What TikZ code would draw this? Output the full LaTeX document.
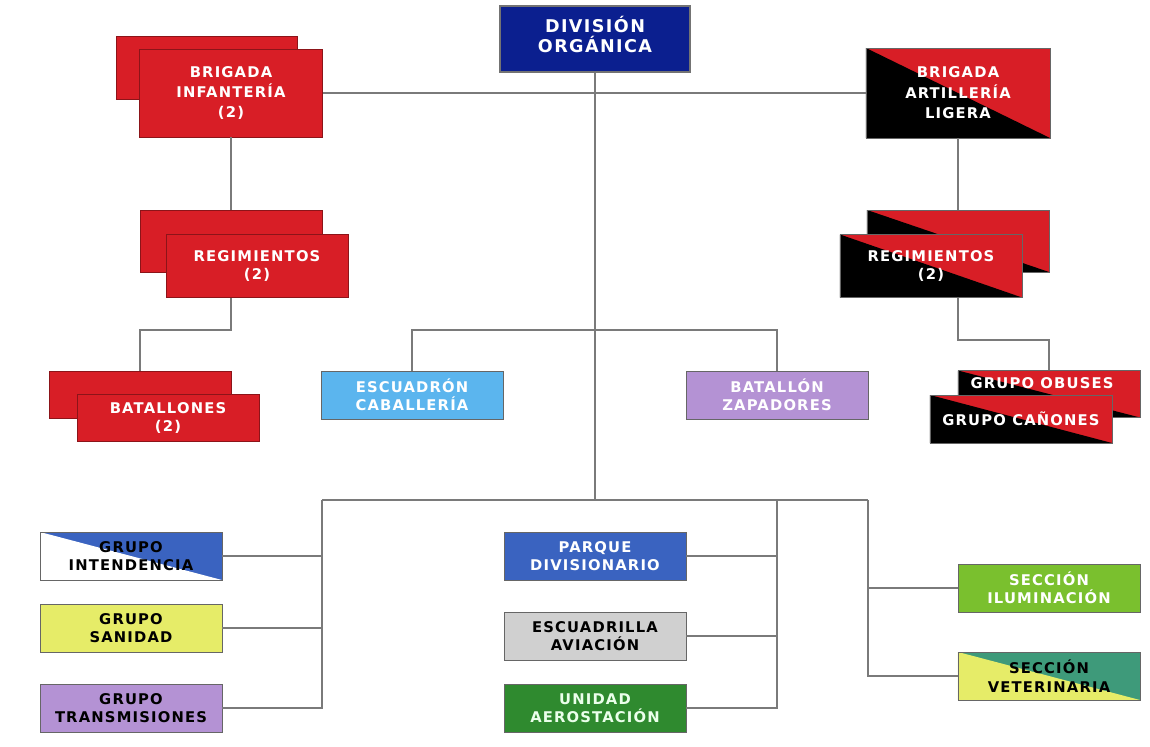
\documentclass[tikz,border=0pt]{standalone}
\usepackage{fontspec}
\setmainfont{DejaVu Sans}[LetterSpace=8]
\definecolor{divblue}{HTML}{0B1F8F}
\definecolor{infred}{HTML}{D81E26}
\definecolor{parqblue}{HTML}{3A63C0}
\definecolor{skyblue}{HTML}{5BB5EE}
\definecolor{lavender}{HTML}{B492D4}
\definecolor{lemon}{HTML}{E6EC68}
\definecolor{teal}{HTML}{3E9A7A}
\definecolor{lightgreen}{HTML}{7AC02E}
\definecolor{darkgreen}{HTML}{2F8A2F}
\definecolor{avgray}{HTML}{D0D0D0}
\definecolor{linegray}{HTML}{7A7A7A}

\begin{document}
\begin{tikzpicture}[x=0.025cm, y=-0.025cm,
  box/.style={draw=black!60, line width=0.6pt, minimum width=4.55cm, minimum height=1.2cm, inner sep=0pt, align=center, font=\bfseries\fontsize{10.5}{13}\selectfont},
  redbox/.style={box, fill=infred, draw=infred!65!black, text=white},
  split/.style 2 args={box, fill=#2, path picture={\fill[#1] (path picture bounding box.north west) -- (path picture bounding box.south east) -- (path picture bounding box.south west) -- cycle;}},
  tall/.style={font=\bfseries\fontsize{10.5}{14.5}\selectfont},
  link/.style={draw=linegray, line width=1pt}]
  \useasboundingbox (0,0) rectangle (1150,746);

  \node[box, fill=divblue, draw=black!55, line width=2pt, text=white, minimum width=4.75cm, minimum height=1.65cm, font=\bfseries\fontsize{12.5}{14}\selectfont] (div) at (595,39) {DIVISIÓN\\ORGÁNICA\\[-7pt]};

  \node[redbox, minimum width=4.525cm, minimum height=1.575cm] (brigInfB) at (207,68) {};
  \node[redbox, tall, minimum width=4.575cm, minimum height=2.2cm] (brigInf) at (231,93) {BRIGADA\\INFANTERÍA\\(2)};
  \node[split={black}{infred}, tall, text=white, minimum width=4.6cm, minimum height=2.25cm] (brigArt) at (958,93) {BRIGADA\\ARTILLERÍA\\LIGERA};

  \node[redbox, minimum height=1.55cm] (regIzB) at (231,241) {};
  \node[redbox, minimum height=1.575cm] (regIz) at (257,266) {REGIMIENTOS\\(2)};
  \node[split={black}{infred}, text=white, minimum height=1.55cm] (regDeB) at (958,241) {};
  \node[split={black}{infred}, text=white, minimum height=1.575cm] (regDe) at (931,266) {REGIMIENTOS\\(2)};

  \node[redbox, minimum height=1.175cm] (batB) at (140,395) {};
  \node[redbox, minimum height=1.175cm] (bat) at (168,418) {BATALLONES\\(2)};
  \node[box, fill=skyblue, text=white] (esc) at (412,395) {ESCUADRÓN\\CABALLERÍA};
  \node[box, fill=lavender, text=white] (zap) at (777,395) {BATALLÓN\\ZAPADORES};
  \node[split={black}{infred}, minimum height=1.175cm] (obus) at (1049,394) {};
  \node[box, draw=none, fill=none, minimum width=0pt, minimum height=0pt, text=white] (obusTxt) at (1042,383) {GRUPO OBUSES};
  \node[split={black}{infred}, text=white] (canon) at (1021,419) {GRUPO CAÑONES};

  \node[split={white}{parqblue}] (intend) at (131,556) {GRUPO\\INTENDENCIA};
  \node[box, fill=lemon] (sanid) at (131,628) {GRUPO\\SANIDAD};
  \node[box, fill=lavender] (trans) at (131,708) {GRUPO\\TRANSMISIONES};
  \node[box, fill=parqblue, text=white] (parque) at (595,556) {PARQUE\\DIVISIONARIO};
  \node[box, fill=avgray] (aviac) at (595,636) {ESCUADRILLA\\AVIACIÓN};
  \node[box, fill=darkgreen, text=green!8!white] (aerost) at (595,708) {UNIDAD\\AEROSTACIÓN};
  \node[box, fill=lightgreen, text=white] (ilum) at (1049,588) {SECCIÓN\\ILUMINACIÓN};
  \node[split={lemon}{teal}] (veter) at (1049,676) {SECCIÓN\\VETERINARIA};

  \coordinate (jMid) at (595,330);
  \coordinate (jBot) at (595,500);
  \coordinate (jL) at (322,500);
  \coordinate (jC) at (777,500);
  \coordinate (jR) at (868,500);
  \coordinate (kIz) at (231,330);
  \coordinate (kDe) at (958,340);

  \draw[link] (div.south) -- (jBot);
  \draw[link] (brigInf.east) -- (brigArt.west);
  \draw[link] (brigInf.south) -- (regIzB.north);
  \draw[link] (brigArt.south) -- (regDeB.north);
  \draw[link] (regIzB |- regIz.south) -- (kIz) -| (batB.north);
  \draw[link] (regDeB |- regDe.south) -- (kDe) -| (obus.north);
  \draw[link] (esc.north) |- (jMid) -| (zap.north);
  \draw[link] (jL) -- (jR);
  \draw[link] (jL) |- (trans.east);
  \draw[link] (intend.east) -- (intend.east -| jL);
  \draw[link] (sanid.east) -- (sanid.east -| jL);
  \draw[link] (jC) |- (aerost.east);
  \draw[link] (parque.east) -- (parque.east -| jC);
  \draw[link] (aviac.east) -- (aviac.east -| jC);
  \draw[link] (jR) |- (veter.west);
  \draw[link] (ilum.west) -- (ilum.west -| jR);
\end{tikzpicture}
\end{document}
